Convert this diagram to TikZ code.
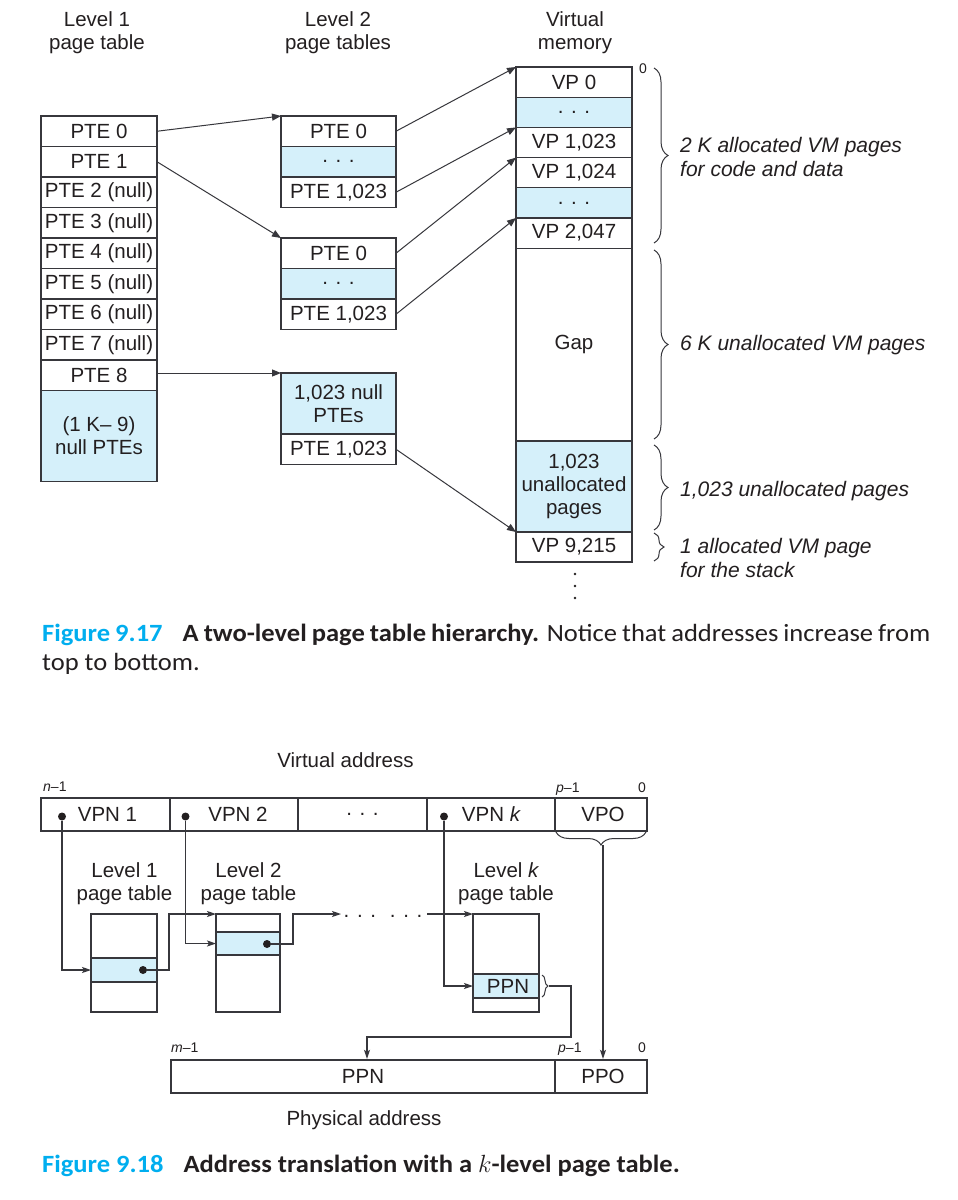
\documentclass[tikz,border=0pt]{standalone}
\usepackage{fontspec}
\setmainfont{Liberation Sans}
\newfontfamily\capfont[FakeStretch=1.07]{Carlito}
\usetikzlibrary{arrows.meta,decorations.pathreplacing,calc}
\definecolor{lblue}{RGB}{213,240,250}
\definecolor{linec}{RGB}{55,55,60}
\definecolor{txt}{RGB}{35,31,32}
\definecolor{figcyan}{RGB}{0,174,239}
\newcommand\mf{\fontsize{20.5}{23}\selectfont}
\newcommand\lf{\fontsize{21}{24}\selectfont\itshape}
\newcommand\smallf{\fontsize{14}{16}\selectfont}
\newcommand\capf{\capfont\fontsize{24.8}{29}\selectfont}
\begin{document}
\begin{tikzpicture}[x=1pt,y=-1pt,
  cell/.style={draw=linec, line width=1.2pt, minimum width=116pt, minimum height=30.5pt, inner sep=0pt, outer sep=0pt, font=\mf, text=txt, align=center},
  bcell/.style={cell, fill=lblue},
  hdr/.style={font=\mf, align=center, anchor=base, inner sep=0pt, text=txt},
  blab/.style={font=\lf, align=left, anchor=base west, inner sep=0pt, text=txt},
  slab/.style={font=\smallf, anchor=base, inner sep=0pt, text=txt},
  tarr/.style={draw=linec, line width=1pt, -{Triangle[length=9pt,width=7pt]}},
  brc/.style={decorate, decoration={brace, amplitude=14pt, aspect=0.5}, draw=linec, line width=1pt},
  vabox/.style={draw=linec, line width=2.4pt, minimum height=33pt, inner sep=0pt, outer sep=0pt, font=\mf, text=txt},
  tcell/.style={draw=linec, line width=2.4pt, inner sep=0pt, outer sep=0pt, font=\mf, text=txt},
  dot/.style={circle, fill=txt, inner sep=0pt, minimum size=8pt},
  conn/.style={draw=linec, line width=1.1pt},
  sarr/.style={-{Stealth[length=9pt,width=6pt,inset=2pt]}}
]
\fill[white] (0,0) rectangle (958,1200);
\useasboundingbox (0,0) rectangle (958,1200);

% ---------- Figure 9.17 ----------
\node[hdr] (h1) at (97,49) {Level 1\\page table};
\node[hdr] (h2) at (338,49) {Level 2\\page tables};
\node[hdr] (h3) at (575,49) {Virtual\\memory};

% level 1 table
\node[cell] (a0) at (99,131.25) {PTE 0};
\node[cell] (a1) at (99,161.75) {PTE 1};
\node[cell] (a2) at (99,192.25) {PTE 2 (null)};
\node[cell] (a3) at (99,222.75) {PTE 3 (null)};
\node[cell] (a4) at (99,253.25) {PTE 4 (null)};
\node[cell] (a5) at (99,283.75) {PTE 5 (null)};
\node[cell] (a6) at (99,314.25) {PTE 6 (null)};
\node[cell] (a7) at (99,344.75) {PTE 7 (null)};
\node[cell] (a8) at (99,375.25) {PTE 8};
\node[bcell, minimum height=91pt] (a9) at (99,436) {(1 K– 9)\\null PTEs};

% level 2 tables
\node[cell, minimum width=115pt] (b0) at (338.5,131.25) {PTE 0};
\node[bcell, minimum width=115pt] (b1) at (338.5,161.75) {. . .};
\node[cell, minimum width=115pt] (b2) at (338.5,192.25) {PTE 1,023};
\node[cell, minimum width=115pt] (c0) at (338.5,253.25) {PTE 0};
\node[bcell, minimum width=115pt] (c1) at (338.5,283.75) {. . .};
\node[cell, minimum width=115pt] (c2) at (338.5,314.25) {PTE 1,023};
\node[bcell, minimum width=115pt, minimum height=61pt] (d0) at (338.5,403.5) {1,023 null\\PTEs};
\node[cell, minimum width=115pt] (d1) at (338.5,449.25) {PTE 1,023};

% virtual memory
\node[cell, minimum height=30.2pt] (v0) at (574,82.1) {VP 0};
\node[bcell, minimum height=30.2pt] (v1) at (574,112.3) {. . .};
\node[cell, minimum height=30.2pt] (v2) at (574,142.5) {VP 1,023};
\node[cell, minimum height=30.2pt] (v3) at (574,172.7) {VP 1,024};
\node[bcell, minimum height=30.2pt] (v4) at (574,202.9) {. . .};
\node[cell, minimum height=30.2pt] (v5) at (574,233.1) {VP 2,047};
\node[cell, minimum height=192.8pt] (vg) at (574,344.6) {Gap};
\node[bcell, minimum height=91pt] (vu) at (574,486.5) {1,023\\unallocated\\pages};
\node[cell, minimum height=30pt] (vs) at (574,547) {VP 9,215};
% vertical ellipsis below the memory column
\foreach \yy in {574,586,598} \fill[txt] (575,\yy) circle (1.4pt);
\node[slab] (zero1) at (643,73) {0};

% arrows level 1 -> level 2
\draw[tarr] (a0.east) -- (b0.north west);
\draw[tarr] (a1.east) -- (c0.north west);
\draw[tarr] (a8.east |- d0.north west) -- (d0.north west);
% arrows level 2 -> VM
\draw[tarr] (b0.east) -- (v0.north west);
\draw[tarr] (b2.east) -- (v2.north west);
\draw[tarr] (c0.east) -- (v3.north west);
\draw[tarr] (c2.east) -- (v5.north west);
\draw[tarr] (d1.east) -- (vs.north west);

% braces
\draw[brc] (654,68) -- (654,243);
\draw[brc] (654,250) -- (654,439);
\draw[brc] (654,445) -- (654,530);
\draw[brc, decoration={amplitude=10pt}] (654,533) -- (654,561);
\node[blab] (l1) at (680,176) {2 K allocated VM pages\\for code and data};
\node[blab] (l2) at (680,350) {6 K unallocated VM pages};
\node[blab] (l3) at (680,496) {1,023 unallocated pages};
\node[blab] (l4) at (680,577) {1 allocated VM page\\for the stack};

% caption 1
\node[anchor=base west, inner sep=0pt, text width=888pt, align=justify, font=\capf, text=txt] (cap1) at (42,641)
 {\textbf{\textcolor{figcyan}{Figure 9.17}}\hspace{20pt}\textbf{A two-level page table hierarchy.} Notice that addresses increase from\linebreak top to bottom.};

% ---------- Figure 9.18 ----------
\node[hdr] (vah) at (345.5,767) {Virtual address};
\node[slab, anchor=base west] (n1) at (43,791) {\itshape n\upshape –1};
\node[slab, anchor=base west] (p1l) at (556,792) {\itshape p\upshape –1};
\node[slab] (z1) at (642,792) {0};

\node[vabox, minimum width=129pt] (f1) at (105.5,814.5) {\hspace{4pt}VPN 1};
\node[vabox, minimum width=128pt] (f2) at (234,814.5) {\hspace{8pt}VPN 2};
\node[vabox, minimum width=129pt] (f3) at (362.5,814.5) {. . .};
\node[vabox, minimum width=128pt] (f4) at (491,814.5) {VPN {\itshape k}};
\node[vabox, minimum width=92pt] (f5) at (601,814.5) {\hspace{4pt}VPO};

\node[dot] (dv1) at (62,816.5) {};
\node[dot] (dv2) at (185.5,816.5) {};
\node[dot] (dvk) at (444,816.5) {};

\node[hdr] (lv1) at (124.5,900) {Level 1\\page table};
\node[hdr] (lv2) at (248.5,900) {Level 2\\page table};
\node[hdr] (lvk) at (506,900) {Level {\itshape k}\\page table};

% tables
\node[tcell, minimum width=66pt, minimum height=44pt] (t1a) at (124,936) {};
\node[tcell, minimum width=66pt, minimum height=24pt, fill=lblue] (t1b) at (124,970) {};
\node[tcell, minimum width=66pt, minimum height=30pt] (t1c) at (124,997) {};
\node[tcell, minimum width=64pt, minimum height=18pt] (t2a) at (248,923) {};
\node[tcell, minimum width=64pt, minimum height=23pt, fill=lblue] (t2b) at (248,943.5) {};
\node[tcell, minimum width=64pt, minimum height=57pt] (t2c) at (248,983.5) {};
\node[tcell, minimum width=66pt, minimum height=60pt] (tka) at (506,944) {};
\node[tcell, minimum width=66pt, minimum height=24pt, fill=lblue] (tkb) at (506,986) {\hspace{4pt}PPN};
\node[tcell, minimum width=66pt, minimum height=14pt] (tkc) at (506,1005) {};

\node[dot] (pd1) at (143,970) {};
\node[dot] (pd2) at (267,944) {};

\coordinate (j1) at (169,914);
\coordinate (j2) at (293,914);
\coordinate (e1) at (341,914);
\coordinate (e2) at (427,914);
\node[font=\mf, anchor=base, inner sep=0pt, text=txt] (mid) at (383,917) {. . .\hspace{14pt}. . .};

\draw[conn, sarr] (dv1) |- (t1b.west);
\draw[conn, sarr] (pd1) -| (j1) -- (t2a.north west);
\draw[conn, sarr] (dv2) |- (t2b.west);
\draw[conn, sarr] (pd2) -| (j2) -- (e1);
\draw[conn, sarr] (e2) -- (tka.north west);
\draw[conn, sarr] (dvk) |- (tkb.west);

% PPN brace and path
\draw[decorate, decoration={brace, amplitude=6pt}, draw=linec, line width=1pt] (542,975) -- (542,997);
\coordinate (bt) at (549,986);
\node[vabox, minimum width=384pt] (pa1) at (363,1076.5) {PPN};
\node[vabox, minimum width=92pt] (pa2) at (601,1076.5) {\hspace{4pt}PPO};
\draw[conn, sarr] (bt) -| (571,1037) -| ($(pa1.north)+(4,-1.2)$);

% VPO brace and path
\draw[decorate, decoration={brace, amplitude=13pt}, draw=linec, line width=1pt] (646,832) -- (556,832);
\coordinate (vt) at (603,845);
\draw[conn, sarr] (vt) -- ($(vt |- pa2.north)+(0,-1.2)$);

\node[slab, anchor=base west] (m1) at (171,1052) {\itshape m\upshape –1};
\node[slab, anchor=base west] (p2l) at (558,1052) {\itshape p\upshape –1};
\node[slab] (z2) at (642,1052) {0};
\node[hdr] (pah) at (364,1125) {Physical address};

% caption 2
\node[anchor=base west, inner sep=0pt, font=\capf, text=txt] (cap2) at (42,1172)
 {\textbf{\textcolor{figcyan}{Figure 9.18}}\hspace{20pt}\textbf{Address translation with a $k$-level page table.}};
\end{tikzpicture}
\end{document}
